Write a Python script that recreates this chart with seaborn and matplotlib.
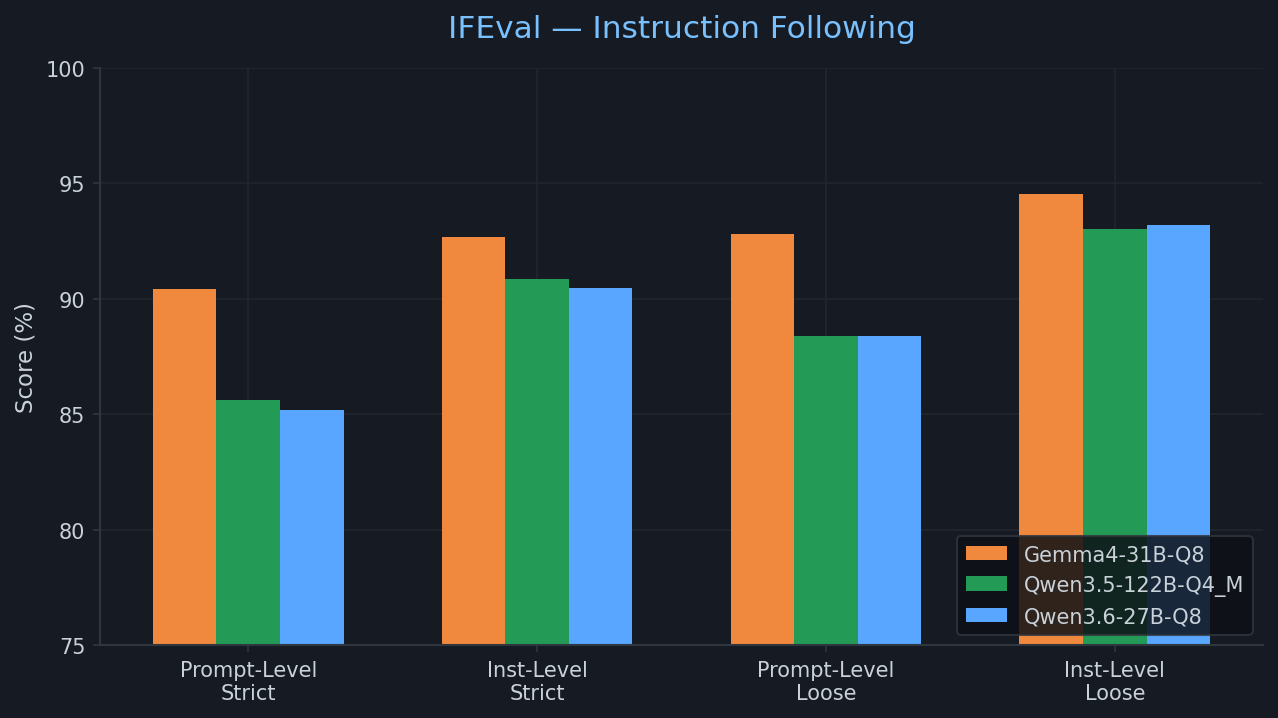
import matplotlib
matplotlib.use("Agg")
import matplotlib.pyplot as plt
import pandas as pd
import seaborn as sns

# Scores
categories = ["Prompt-Level\nStrict", "Inst-Level\nStrict", "Prompt-Level\nLoose", "Inst-Level\nLoose"]
models = ["Gemma4-31B-Q8", "Qwen3.5-122B-Q4_M", "Qwen3.6-27B-Q8"]
gemma_scores = [90.42, 92.68, 92.81, 94.54]
qwen35_scores = [85.62, 90.86, 88.39, 93.02]
qwen36_scores = [85.18, 90.47, 88.39, 93.20]
colors = ["#f0883e", "#239a56", "#58a6ff"]

bg = "#161a22"
text_col = "#c9d1d9"
grid_col = "#21262d"
spine_col = "#30363d"

rows = []
for model, scores in zip(models, [gemma_scores, qwen35_scores, qwen36_scores]):
    for cat, s in zip(categories, scores):
        rows.append({"Category": cat, "Model": model, "Score": s})
df = pd.DataFrame(rows)

sns.set_theme(style="dark")
plt.rcParams['font.family'] = ['DejaVu Sans']

fig = plt.figure(figsize=(8.52, 4.793), dpi=150, facecolor=bg)
ax = fig.add_axes([100 / 1278, 1 - 646 / 719, 1163 / 1278, 577 / 719])
ax.set_facecolor(bg)

sns.barplot(data=df, x="Category", y="Score", hue="Model", palette=colors,
            width=0.66, ax=ax, errorbar=None, saturation=1, linewidth=0)

ax.set_ylim(75, 100)
ax.set_xlim(-0.513, 3.513)
ax.set_xlabel("")
ax.set_ylabel("Score (%)", color=text_col, fontsize=11)
ax.set_title("IFEval — Instruction Following", color="#79c0ff", fontsize=15, pad=15)

ax.grid(True, color=grid_col, linewidth=0.8)
ax.set_axisbelow(True)
ax.tick_params(colors=text_col, labelsize=10, length=3.5, width=0.8, bottom=True, left=True)
for side in ["top", "right"]:
    ax.spines[side].set_visible(False)
for side in ["left", "bottom"]:
    ax.spines[side].set_color(spine_col)
    ax.spines[side].set_linewidth(1)
ax.tick_params(axis="both", color=spine_col, labelcolor=text_col)

leg = ax.legend(loc="lower right", fontsize=10, facecolor="#0d1117", edgecolor=spine_col,
                framealpha=0.85, labelcolor=text_col)
leg.get_frame().set_linewidth(1)

fig.savefig("out.png", dpi=150, facecolor=bg)
